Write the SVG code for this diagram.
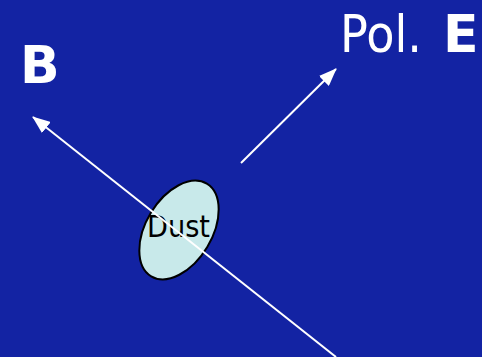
<svg xmlns="http://www.w3.org/2000/svg" width="482" height="357" viewBox="0 0 482 357">
<defs>
<style>
.lbl{font-family:"DejaVu Sans","Liberation Sans",sans-serif;fill:#fff}
.con{stroke:#fff;stroke-width:2;fill:none}
</style>
<marker id="ah" viewBox="0 0 18 14" refX="17" refY="7" markerWidth="18" markerHeight="14" markerUnits="userSpaceOnUse" orient="auto">
<path d="M0,0 L18,7 L0,14 Z" fill="#fff"/>
</marker>
</defs>
<rect width="482" height="357" fill="#1323A3"/>
<g id="dust">
<ellipse cx="179" cy="230" rx="33" ry="54" transform="rotate(31 179 230)" fill="#C8E9EA" stroke="#000" stroke-width="2"/>
<text x="147" y="237" font-family="DejaVu Sans, Liberation Sans, sans-serif" font-size="30" textLength="63" lengthAdjust="spacingAndGlyphs" fill="#000">Dust</text>
</g>
<g id="connectors">
<line class="con" x1="336" y1="357" x2="33" y2="117" marker-end="url(#ah)"/>
<line class="con" x1="241" y1="163" x2="336" y2="69" marker-end="url(#ah)"/>
</g>
<g id="label-b">
<text class="lbl" x="20" y="83" font-size="52" font-weight="bold">B</text>
</g>
<g id="label-pol-e">
<text class="lbl" x="340" y="52" font-size="52"><tspan textLength="82" lengthAdjust="spacingAndGlyphs">Pol.</tspan><tspan x="443" font-weight="bold">E</tspan></text>
</g>
</svg>
